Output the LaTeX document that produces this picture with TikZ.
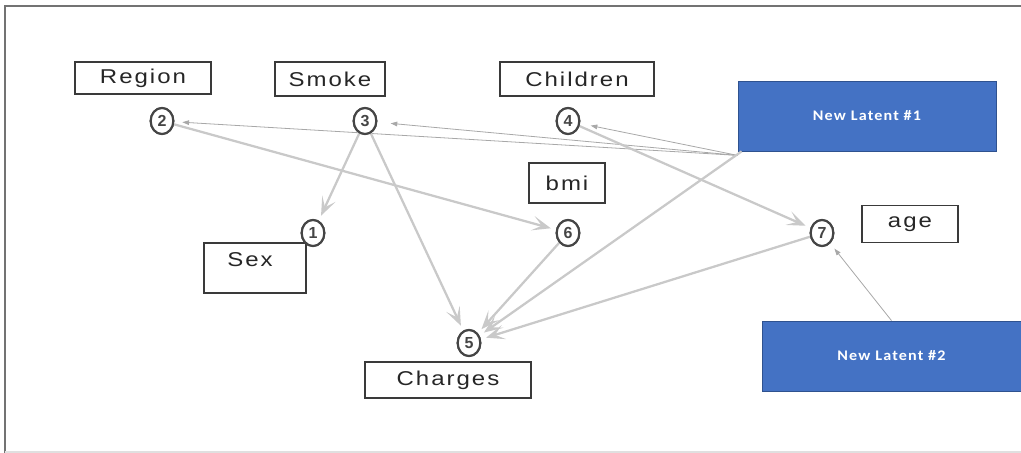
\documentclass[tikz,border=0pt]{standalone}
\usepackage{fontspec}
\setmainfont{Liberation Sans}
\newfontfamily\boxfont[FakeStretch=1.2,LetterSpace=10]{Liberation Sans}
\newfontfamily\latentfont[FakeStretch=1.1,LetterSpace=8]{Carlito}
\usetikzlibrary{arrows.meta,shapes.geometric}
\definecolor{latentblue}{HTML}{4472C4}
\definecolor{latentedge}{HTML}{2F528F}
\definecolor{thickedge}{HTML}{C9C9C9}
\definecolor{thinedge}{HTML}{A8A8A8}
\definecolor{boxline}{HTML}{3A3A3A}
\definecolor{circline}{HTML}{454545}
\tikzset{
  varbox/.style={draw=boxline, line width=1.3pt, fill=white, font=\boxfont\fontsize{15pt}{17pt}\selectfont, text=black!85, inner sep=0pt},
  numcirc/.style={ellipse, draw=circline, line width=1.6pt, fill=white, minimum width=17pt, minimum height=19.5pt, inner sep=0pt, font=\bfseries\fontsize{12pt}{13pt}\selectfont, text=circline},
  latent/.style={draw=latentedge, line width=0.6pt, fill=latentblue, text=white, font=\latentfont\bfseries\fontsize{11pt}{13pt}\selectfont, minimum width=193.5pt, minimum height=52.5pt, inner sep=0pt},
  thickarrow/.style={draw=thickedge, line width=1.7pt, -{Stealth[length=14pt,width=11pt,inset=7pt]}, shorten >=4pt},
  thinarrow/.style={draw=thinedge, line width=0.6pt, -{Triangle[length=5pt,width=3.5pt]}, shorten >=6pt}
}
\begin{document}
\begin{tikzpicture}[x=0.75pt,y=-0.75pt]
\useasboundingbox (0,0) rectangle (1021,453);
% frame
\draw[color=black!55, line width=2.2pt] (5,453) -- (5,6) -- (1021,6);
\draw[color=black!12, line width=0.8pt] (5,452) -- (1021,452);

% variable boxes
\node[varbox, minimum width=102pt, minimum height=24pt] (region) at (143,78) {Region};
\node[varbox, minimum width=82.5pt, minimum height=25.5pt] (smoke) at (330,79) {Smoke};
\node[varbox, minimum width=115.5pt, minimum height=25.5pt] (children) at (577,79) {Children};
\node[varbox, minimum width=57pt, minimum height=30pt] (bmi) at (567,183) {bmi};
\node[varbox, minimum width=76.5pt, minimum height=37.5pt] (sex) at (255,268) {};
\node[font=\boxfont\fontsize{15pt}{17pt}\selectfont, text=black!85] (sextext) at (250,260) {Sex};
\node[varbox, minimum width=72pt, minimum height=27.75pt] (age) at (910,224) {age};
\node[varbox, minimum width=124pt, minimum height=27pt] (charges) at (448,380) {Charges};

% latent boxes
\node[latent] (nl1) at (867,116) {New Latent \#1};
\node[latent, minimum width=194.25pt] (nl2) at (891.5,356) {New Latent \#2};

% numbered circles
\node[numcirc] (c2) at (162,121) {2};
\node[numcirc] (c3) at (365,121) {3};
\node[numcirc] (c4) at (568,121) {4};
\node[numcirc] (c1) at (313,233) {1};
\node[numcirc] (c6) at (568,233) {6};
\node[numcirc] (c7) at (822,233) {7};
\node[numcirc] (c5) at (469,343) {5};

% thin arrows from latents
\draw[thinarrow] ([yshift=-3pt]nl1.south west) -- (c2);
\draw[thinarrow, shorten >=10pt] ([yshift=-3pt]nl1.south west) -- (c3);
\draw[thinarrow, shorten >=8pt] ([yshift=-3pt]nl1.south west) -- (c4);
\draw[thinarrow, shorten >=5pt] (nl2.north) -- (c7);

% thick arrows
\draw[thickarrow] ([xshift=3pt]nl1.south west) -- (c5);
\draw[thickarrow] (c2) -- (c6);
\draw[thickarrow] (c3) -- (c1);
\draw[thickarrow] (c3) -- (c5);
\draw[thickarrow] (c4) -- (c7);
\draw[thickarrow] (c6) -- (c5);
\draw[thickarrow] (c7) -- (c5);

% redraw circles on top
\foreach \n/\t in {c2/2,c3/3,c4/4,c1/1,c6/6,c7/7,c5/5}{
  \node[numcirc] at (\n) {\t};
}
\end{tikzpicture}
\end{document}
